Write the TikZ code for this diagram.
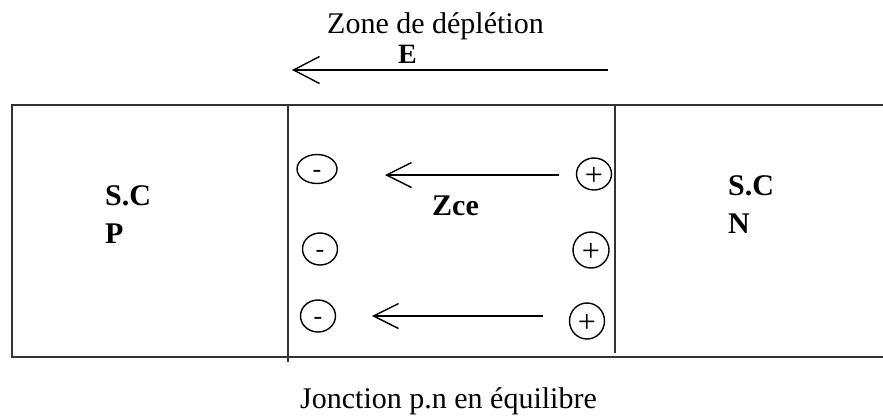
\documentclass[tikz,border=0pt]{standalone}
\usepackage{fontspec}
\setmainfont{Liberation Serif}
\usetikzlibrary{arrows.meta,shapes.geometric}
\tikzset{
  frame/.style={line width=1.8pt, draw=black!80},
  field/.style={line width=1.5pt, -{Straight Barb[length=25pt,width=25pt,line width=1.4pt]}},
  chg/.style={ellipse, draw, line width=1.4pt, inner sep=0pt},
  lbl/.style={inner sep=0pt, anchor=base west, font=\fontsize{30}{38}\selectfont},
  blbl/.style={lbl, font=\fontsize{30}{38}\selectfont\bfseries},
  sign/.style={inner sep=0pt, yshift=-2pt, font=\fontsize{32}{34}\selectfont},
  msign/.style={inner sep=0pt, yshift=-5pt, font=\fontsize{26}{28}\selectfont}
}
\begin{document}
\begin{tikzpicture}[x=1pt,y=-1pt]
\useasboundingbox (0,0) rectangle (883,418);
% frame
\coordinate (tl) at (12,105);
\coordinate (tr) at (883,105);
\coordinate (bl) at (12,357);
\coordinate (br) at (883,357);
\draw[frame] (tr) -- (tl) -- (bl) -- (br);
\coordinate (d1t) at (288,105);
\coordinate (d1b) at (288,362);
\coordinate (d2t) at (615,105);
\coordinate (d2b) at (615,353);
\draw[frame] (d1t) -- (d1b);
\draw[frame] (d2t) -- (d2b);
% top field arrow
\node[lbl] (zone) at (327,33) {Zone de déplétion};
\node[blbl, font=\fontsize{28}{30}\selectfont\bfseries] (E) at (398,63) {E};
\coordinate (es) at (608,70);
\coordinate (ee) at (292,70);
\draw[field, -{Straight Barb[length=26pt,width=27pt,line width=1.4pt]}] (es) -- (ee);
% charges
\node[chg, minimum width=40pt, minimum height=29pt] (m1) at (317,169) {};
\node[chg, minimum width=35pt, minimum height=32pt] (m2) at (320,249) {};
\node[chg, minimum width=35pt, minimum height=32pt] (m3) at (318,316) {};
\node[msign] at (m1) {-};
\node[msign] at (m2) {-};
\node[msign] at (m3) {-};
\node[chg, minimum width=35pt, minimum height=32pt] (p1) at (594,174) {};
\node[chg, minimum width=36pt, minimum height=36pt] (p2) at (591,250) {};
\node[chg, minimum width=35pt, minimum height=36pt] (p3) at (587,321) {};
\node[sign] at (p1) {+};
\node[sign] at (p2) {+};
\node[sign] at (p3) {+};
% inner arrows
\coordinate (a1s) at (559,175);
\coordinate (a1e) at (385,175);
\coordinate (a2s) at (543,316);
\coordinate (a2e) at (372,316);
\draw[field] (a1s) -- (a1e);
\draw[field] (a2s) -- (a2e);
% labels
\node[blbl] (zce) at (432,215) {Zce};
\node[blbl, align=left] (scp) at (105,243) {S.C\\P};
\node[blbl, align=left] (scn) at (728,233) {S.C\\N};
\node[lbl] (jn) at (300,408) {Jonction p.n en équilibre};
\end{tikzpicture}
\end{document}
